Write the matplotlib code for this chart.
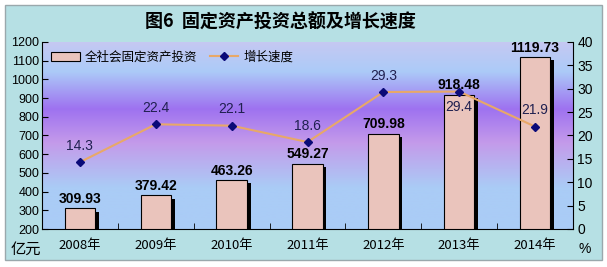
import numpy as np
import matplotlib.pyplot as plt
from matplotlib.colors import LinearSegmentedColormap
from matplotlib.patches import Rectangle
from matplotlib.lines import Line2D
from matplotlib.patches import Patch

plt.rcParams['font.family'] = ['Liberation Sans Narrow', 'Liberation Sans', 'Noto Sans CJK SC', 'DejaVu Sans']

years = ['2008年', '2009年', '2010年', '2011年', '2012年', '2013年', '2014年']
invest = [309.93, 379.42, 463.26, 549.27, 709.98, 918.48, 1119.73]
growth = [14.3, 22.4, 22.1, 18.6, 29.3, 29.4, 21.9]
growth_below = [False, False, False, False, False, True, False]

bar_color = '#EAC4BC'
line_color = '#E8A868'
marker_color = '#0A0A78'
cjk = ['Noto Sans CJK SC', 'DejaVu Sans']

fig = plt.figure(figsize=(6.07, 2.67), dpi=100)
fig.patch.set_facecolor('white')
# textured panel approximated by a flat teal fill
fig.patches.append(Rectangle((5 / 607, 7 / 267), 597 / 607, 255 / 267, transform=fig.transFigure,
                             facecolor='#B6E0E4', edgecolor='#9AA8AC', lw=1, zorder=-10))

ax = fig.add_axes([42 / 607, 1 - 229 / 267, 531 / 607, 187 / 267])
ax2 = ax.twinx()

# plot area gradient
cmap = LinearSegmentedColormap.from_list('bg', [
    (0.0, '#AACCF6'), (0.22, '#AACCF6'), (0.46, '#C49AEA'),
    (0.64, '#9E72F0'), (0.84, '#ACCBF8'), (1.0, '#C6C8F2')])
grad = np.linspace(0, 1, 256).reshape(-1, 1)
ax.imshow(grad, aspect='auto', cmap=cmap, extent=[0, 1, 0, 1], transform=ax.transAxes,
          origin='lower', zorder=0)

x = np.arange(len(years))
w = 0.4
ax.bar(x + 0.05, np.array(invest) - 200 - 18, bottom=200, width=w, color='black', zorder=2)
ax.bar(x, np.array(invest) - 200, bottom=200, width=w, color=bar_color, edgecolor='black',
       linewidth=0.8, zorder=3)
for xi, v in zip(x, invest):
    ax.text(xi, v + 12, f'{v:.2f}', ha='center', va='bottom', fontsize=10, fontweight='bold',
            color='black', zorder=5)

ax.set_xlim(-0.5, len(years) - 0.5)
ax.set_ylim(200, 1200)
ax.set_yticks(np.arange(200, 1201, 100))
ax.set_xticks(x)
ax.set_xticklabels(years, fontsize=9.5, family=['Liberation Sans Narrow', 'Noto Sans CJK SC', 'DejaVu Sans'])
ax.set_xticks(np.arange(0.5, len(years) - 1, 1), minor=True)
ax.tick_params(axis='x', which='major', length=0, pad=7)
ax.tick_params(axis='x', which='minor', length=4, direction='in')
ax.tick_params(axis='y', direction='in', length=4, labelsize=9, pad=2)

ax2.plot(x, growth, color=line_color, lw=1.5, marker='D', markersize=4.5,
         markerfacecolor=marker_color, markeredgecolor=marker_color, zorder=4)
for xi, g, below in zip(x, growth, growth_below):
    if below:
        ax2.text(xi, g - 1.8, f'{g}', ha='center', va='top', fontsize=10, color='#202050')
    else:
        ax2.text(xi, g + 2, f'{g}', ha='center', va='bottom', fontsize=10, color='#202050')
ax2.set_ylim(0, 40)
ax2.set_yticks(np.arange(0, 41, 5))
ax2.tick_params(axis='y', direction='in', length=4, labelsize=10, pad=3)

for a in (ax, ax2):
    for s in a.spines.values():
        s.set_visible(False)
ax.spines['left'].set_visible(True)
ax.spines['bottom'].set_visible(True)
ax2.spines['right'].set_visible(True)
ax2.patch.set_visible(False)

handles = [Patch(facecolor=bar_color, edgecolor='black', linewidth=0.8),
           Line2D([], [], color=line_color, lw=1.5, marker='D', markersize=4.5,
                  markerfacecolor=marker_color, markeredgecolor=marker_color)]
ax2.legend(handles, ['全社会固定资产投资', '增长速度'], loc='upper left', ncol=2, frameon=False,
           prop={'family': cjk, 'size': 9}, bbox_to_anchor=(0.0, 1.0), handlelength=2.3,
           columnspacing=1.0, handletextpad=0.4, borderaxespad=0.3)

fig.text(280 / 607, 1 - 22 / 267, '图6  固定资产投资总额及增长速度', ha='center', va='center',
         fontsize=13, fontweight='bold', family=cjk)
fig.text(26 / 607, 1 - 249 / 267, '亿元', ha='center', va='center', fontsize=11, family=cjk)
fig.text(585 / 607, 1 - 249 / 267, '%', ha='center', va='center', fontsize=10)

fig.savefig('out.png', dpi=100)
